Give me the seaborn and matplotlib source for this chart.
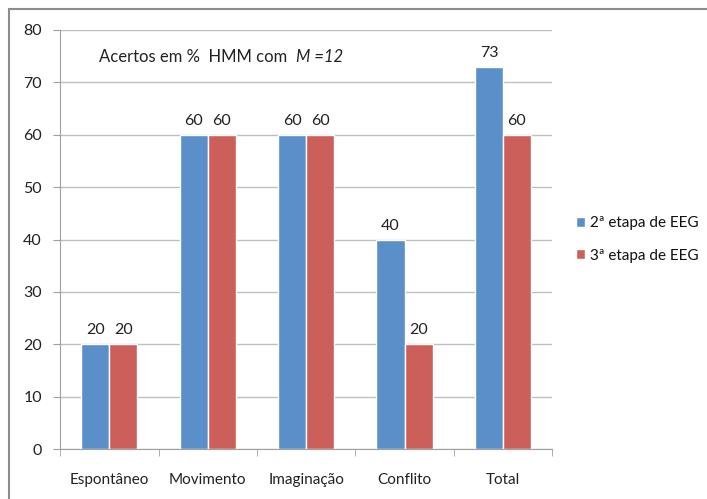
import pandas as pd
import seaborn as sns
import matplotlib.pyplot as plt
from matplotlib.patches import Rectangle

# Dados
categorias = ['Espontâneo', 'Movimento', 'Imaginação', 'Conflito', 'Total']
etapa2 = [20, 60, 60, 40, 73]
etapa3 = [20, 60, 60, 20, 60]
series = ['2ª etapa de EEG', '3ª etapa de EEG']

df = pd.DataFrame({
    'Categoria': categorias * 2,
    'Etapa': [series[0]] * 5 + [series[1]] * 5,
    'Acertos': etapa2 + etapa3,
})

sns.set_style('white')
plt.rcParams['font.family'] = ['Lato', 'DejaVu Sans']

fig = plt.figure(figsize=(7.07, 4.99), dpi=100)
ax = fig.add_axes([0.085, 0.1, 0.696, 0.84])

cores = ['#5A8FC9', '#CD5F5A']
sns.barplot(data=df, x='Categoria', y='Acertos', hue='Etapa',
            palette=cores, width=0.57, ax=ax, legend=True, saturation=1)

for c in ax.containers:
    ax.bar_label(c, fmt='%d', padding=5, fontsize=11.5, color='#222222')

ax.set_ylim(0, 80)
ax.set_yticks(range(0, 81, 10))
ax.yaxis.grid(True, color='#bfbfbf', linewidth=1)
ax.set_axisbelow(True)
ax.set_xlabel('')
ax.set_ylabel('')
for s in ['top', 'right']:
    ax.spines[s].set_visible(False)
ax.spines['left'].set_color('#a0a0a0')
ax.spines['bottom'].set_color('#a0a0a0')
ax.tick_params(axis='y', left=True, length=5, color='#a0a0a0',
               labelsize=11.5, labelcolor='#222222', pad=8)
ax.tick_params(axis='x', bottom=False, labelsize=11, labelcolor='#222222', pad=14)
# marcas entre categorias
ax.set_xticks([i + 0.5 for i in range(-1, 5)], minor=True)
ax.tick_params(axis='x', which='minor', bottom=True, length=5, color='#a0a0a0')
ax.set_xlim(-0.5, 4.5)

titulo = ax.text(0.08, 0.935, 'Acertos em %  HMM com  ', transform=ax.transAxes,
                 fontsize=12, color='#222222', va='center')
ax.annotate('M =12', xy=(1, 0.5), xycoords=titulo, va='center', ha='left',
            fontsize=12, color='#222222', style='italic')

leg = ax.legend(loc='center left', bbox_to_anchor=(1.02, 0.5), frameon=False,
                fontsize=11, handlelength=0.6, handleheight=0.6,
                handletextpad=0.35, labelspacing=1.2)
for t in leg.get_texts():
    t.set_color('#111111')

# moldura do gráfico
fig.patches.append(Rectangle((9 / 707, -0.1), 1.2, 1 - 9.5 / 499 + 0.1,
                             transform=fig.transFigure, fill=False,
                             edgecolor='#8c8c8c', linewidth=1.5))

fig.savefig('out.png', dpi=100)
